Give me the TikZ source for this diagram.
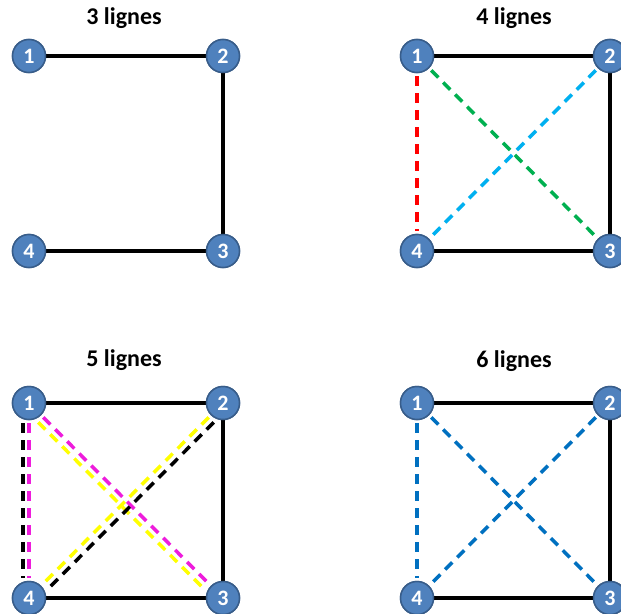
\documentclass[tikz,border=0pt]{standalone}
\usepackage{fontspec}
\setmainfont{Carlito}
\definecolor{nodefill}{HTML}{4F81BD}
\definecolor{nodeedge}{HTML}{385D8A}
\definecolor{dgreen}{HTML}{00B050}
\definecolor{dcyan}{HTML}{00B0F0}
\definecolor{dred}{HTML}{FF0000}
\definecolor{dmag}{HTML}{EE1CDC}
\definecolor{dyel}{HTML}{FFFF00}
\definecolor{dblue}{HTML}{0070C0}
\tikzset{
  vert/.style={circle, fill=nodefill, draw=nodeedge, line width=1.5pt, minimum size=33pt, inner sep=0pt, text=white, font=\fontsize{22}{22}\selectfont\bfseries},
  title/.style={font=\fontsize{24}{24}\selectfont\bfseries},
  solidedge/.style={line width=3.5pt, black},
  dashedge/.style={line width=3.5pt, dash pattern=on 10pt off 7pt, shorten <=3pt, shorten >=3pt}
}
\begin{document}
\begin{tikzpicture}[x=1pt,y=-1pt]
\clip (0,0) rectangle (621,613);
\fill[white] (0,0) rectangle (621,613);
% titles
\node[title] (t1) at (124,18) {3 lignes};
\node[title] (t2) at (514,18) {4 lignes};
\node[title] (t3) at (124,360) {5 lignes};
\node[title] (t4) at (514,361) {6 lignes};
% panel A
\node[vert] (a1) at (29,56) {1};
\node[vert] (a2) at (223,56) {2};
\node[vert] (a3) at (223,251) {3};
\node[vert] (a4) at (29,251) {4};
% panel B
\node[vert] (b1) at (417,56) {1};
\node[vert] (b2) at (610,56) {2};
\node[vert] (b3) at (610,251) {3};
\node[vert] (b4) at (417,251) {4};
% panel C
\node[vert] (c1) at (29,403) {1};
\node[vert] (c2) at (223,403) {2};
\node[vert] (c3) at (223,598) {3};
\node[vert] (c4) at (29,598) {4};
% panel D
\node[vert] (d1) at (417,403) {1};
\node[vert] (d2) at (610,403) {2};
\node[vert] (d3) at (610,598) {3};
\node[vert] (d4) at (417,598) {4};
% panel A edges
\draw[solidedge] (a1) -- (a2);
\draw[solidedge] (a2) -- (a3);
\draw[solidedge] (a4) -- (a3);
% panel B edges
\draw[solidedge] (b1) -- (b2);
\draw[solidedge] (b2) -- (b3);
\draw[solidedge] (b4) -- (b3);
\draw[dashedge, dred] (b1) -- (b4);
\draw[dashedge, dgreen] (b1) -- (b3);
\draw[dashedge, dcyan] (b2) -- (b4);
% panel C edges
\draw[solidedge] (c1) -- (c2);
\draw[solidedge] (c2) -- (c3);
\draw[solidedge] (c4) -- (c3);
\draw[dashedge, black, transform canvas={xshift=-6pt}] (c1) -- (c4);
\draw[dashedge, dmag] (c1) -- (c4);
\draw[dashedge, dmag] (c1) -- (c3);
\draw[dashedge, dyel, transform canvas={xshift=-5pt,yshift=-5pt}] (c1) -- (c3);
\draw[dashedge, dyel] (c2) -- (c4);
\draw[dashedge, black, transform canvas={xshift=5pt,yshift=-5pt}] (c2) -- (c4);
% panel D edges
\draw[solidedge] (d1) -- (d2);
\draw[solidedge] (d2) -- (d3);
\draw[solidedge] (d4) -- (d3);
\draw[dashedge, dblue] (d1) -- (d4);
\draw[dashedge, dblue] (d1) -- (d3);
\draw[dashedge, dblue] (d2) -- (d4);
% redraw nodes on top
\foreach \p in {a,b,c,d}{
  \foreach \k in {1,2,3,4}{
    \node[vert] at (\p\k) {\k};
  }
}
\end{tikzpicture}
\end{document}
